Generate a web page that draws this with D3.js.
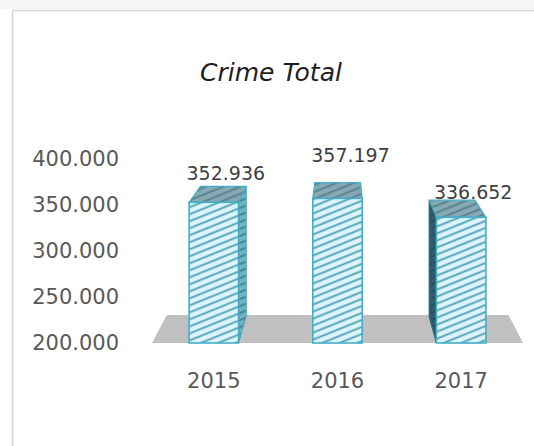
<!DOCTYPE html>
<html lang="en">
    <head>
        <meta charset="utf-8">
        <script type="text/javascript" src="https://cdn.jsdelivr.net/npm/d3@7"></script>
        <style type="text/css">
            body { margin: 0; background: #ffffff; }
            .tick text { font-family: "DejaVu Sans", sans-serif; fill: #595959; }
            .domain { display: none; }
        </style>
    </head>
    <body>
        <script type="text/javascript">
            // chart data
            var years = ["2015", "2016", "2017"];
            var crimeTotals = [352936, 357197, 336652];
            var yTicks = [200000, 250000, 300000, 350000, 400000];
            var chartTitle = "Crime Total";

            // nudges for the value labels, the way excel placed them
            var labelDx = [12, 13, 12];
            var labelDy = [-22, -36, -18];

            var w = 534, h = 446;

            // number format with dots for thousands
            var fmt = d3.formatLocale({decimal: ",", thousands: ".", grouping: [3], currency: ["", ""]}).format(",d");

            var xScale = d3.scaleBand()
                .domain(years)
                .range([152, 523])
                .paddingInner(0.6)
                .paddingOuter(0.3);

            var yScale = d3.scaleLinear()
                .domain([200000, 400000])
                .range([343, 159]);

            // simple perspective towards a vanishing point
            var vx = 340, vy = -11;
            var floorDepth = 0.921, barDepth = 0.925;
            function proj(x, y, s) {
                return [vx + (x - vx) * s, vy + (y - vy) * s];
            }
            function poly(pts) {
                return pts.map(function(p) { return p.join(","); }).join(" ");
            }

            var svg = d3.select("body")
                .append("svg")
                .attr("width", w)
                .attr("height", h);

            // hatch patterns
            var defs = svg.append("defs");
            function hatch(id, bg, line) {
                var p = defs.append("pattern")
                    .attr("id", id)
                    .attr("patternUnits", "userSpaceOnUse")
                    .attr("width", 8)
                    .attr("height", 6.5)
                    .attr("patternTransform", "rotate(-22)");
                p.append("rect").attr("width", 8).attr("height", 6.5).attr("fill", bg);
                p.append("line")
                    .attr("x1", 0).attr("x2", 8)
                    .attr("y1", 3.2).attr("y2", 3.2)
                    .attr("stroke", line)
                    .attr("stroke-width", 1.8);
            }
            hatch("hFront", "#dcf4fa", "#4b9fb5");
            hatch("hSide", "#74b2c4", "#3a7f92");
            hatch("hDark", "#2f5f6d", "#22505c");
            hatch("hTop", "#86aab5", "#557f8c");

            // chart frame
            svg.append("rect")
                .attr("x", 0).attr("y", 0)
                .attr("width", w).attr("height", 9)
                .attr("fill", "#f6f6f6");
            svg.append("rect")
                .attr("x", 12.5).attr("y", 10.5)
                .attr("width", w + 10).attr("height", h + 10)
                .attr("fill", "#ffffff")
                .attr("stroke", "#d4d4d4")
                .attr("stroke-width", 1.5);

            // title
            svg.append("text")
                .attr("x", 271)
                .attr("y", 81)
                .attr("text-anchor", "middle")
                .style("font-family", "DejaVu Sans, sans-serif")
                .style("font-style", "italic")
                .style("font-size", "25px")
                .attr("fill", "#1e1e1e")
                .text(chartTitle);

            // floor
            var x0 = xScale.range()[0], x1 = xScale.range()[1], yb = yScale(200000);
            svg.append("polygon")
                .attr("points", poly([proj(x0, yb, 1), proj(x1, yb, 1), proj(x1, yb, floorDepth), proj(x0, yb, floorDepth)]))
                .attr("fill", "#c0c0c0");

            // bars
            var bars = svg.selectAll(".bar3d")
                .data(crimeTotals)
                .enter()
                .append("g")
                .attr("class", "bar3d");

            bars.each(function(d, i) {
                var g = d3.select(this);
                var l = xScale(years[i]), r = l + xScale.bandwidth();
                var t = yScale(d);
                var stroke = "#45aec6";

                // side face facing the middle
                if (r < vx) {
                    g.append("polygon")
                        .attr("points", poly([proj(r, t, 1), proj(r, t, barDepth), proj(r, yb, barDepth), proj(r, yb, 1)]))
                        .attr("fill", "url(#hSide)")
                        .attr("stroke", stroke).attr("stroke-width", 1.2);
                }
                if (l > vx) {
                    g.append("polygon")
                        .attr("points", poly([proj(l, t, 1), proj(l, t, barDepth), proj(l, yb, barDepth), proj(l, yb, 1)]))
                        .attr("fill", "url(#hDark)")
                        .attr("stroke", "#2b6a7a").attr("stroke-width", 1.2);
                }

                // top face
                g.append("polygon")
                    .attr("points", poly([proj(l, t, 1), proj(r, t, 1), proj(r, t, barDepth), proj(l, t, barDepth)]))
                    .attr("fill", "url(#hTop)")
                    .attr("stroke", stroke).attr("stroke-width", 1.2);

                // front face
                g.append("rect")
                    .attr("x", l)
                    .attr("y", t)
                    .attr("width", xScale.bandwidth())
                    .attr("height", yb - t)
                    .attr("fill", "url(#hFront)")
                    .attr("stroke", stroke)
                    .attr("stroke-width", 1.6);
            });

            // value labels
            svg.selectAll(".val")
                .data(crimeTotals)
                .enter()
                .append("text")
                .attr("class", "val")
                .attr("x", function(d, i) { return xScale(years[i]) + xScale.bandwidth() / 2 + labelDx[i]; })
                .attr("y", function(d, i) { return yScale(d) + labelDy[i]; })
                .attr("text-anchor", "middle")
                .style("font-family", "DejaVu Sans, sans-serif")
                .style("font-size", "19px")
                .attr("fill", "#404040")
                .text(function(d) { return fmt(d); });

            // axes
            var yAxis = d3.axisLeft(yScale)
                .tickValues(yTicks)
                .tickSize(0)
                .tickPadding(0)
                .tickFormat(fmt);
            svg.append("g")
                .attr("class", "y axis")
                .attr("transform", "translate(119,0)")
                .call(yAxis)
                .selectAll("text")
                .style("font-size", "21px");

            var xAxis = d3.axisBottom(xScale)
                .tickSize(0)
                .tickPadding(30);
            svg.append("g")
                .attr("class", "x axis")
                .attr("transform", "translate(0," + yb + ")")
                .call(xAxis)
                .selectAll("text")
                .style("font-size", "21px");
        </script>
    </body>
</html>
